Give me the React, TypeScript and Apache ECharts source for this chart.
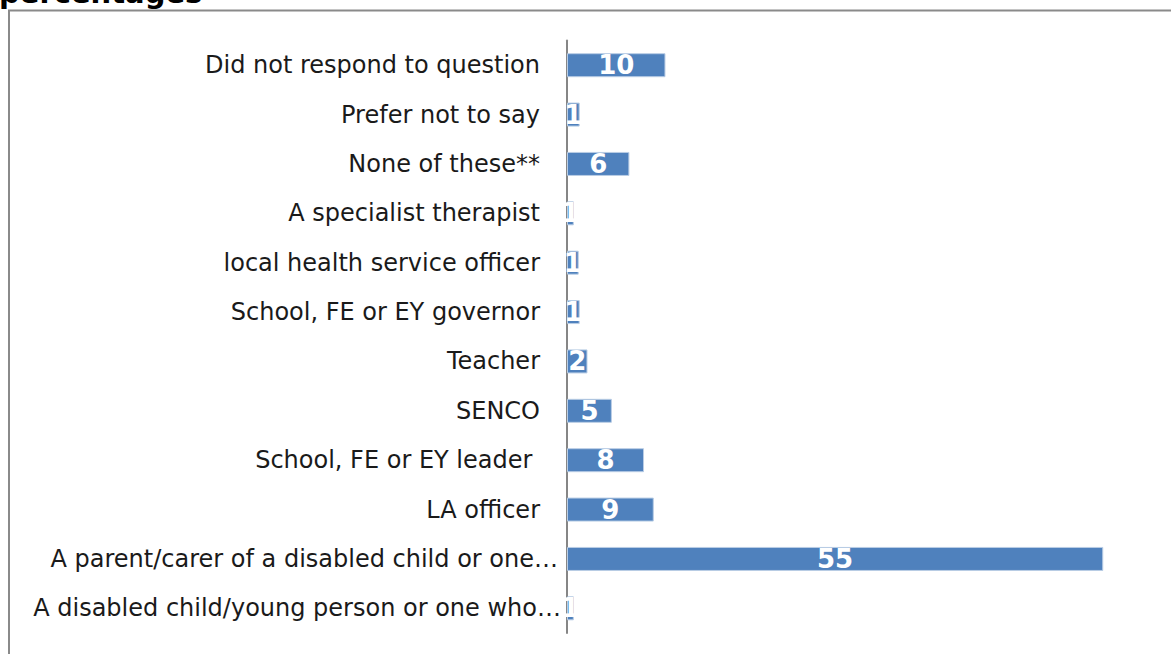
import React, { useEffect, useRef } from "react";
import * as echarts from "echarts";

const categories = [
  "A disabled child/young person or one who…",
  "A parent/carer of a disabled child or one…",
  "LA officer",
  "School, FE or EY leader ",
  "SENCO",
  "Teacher",
  "School, FE or EY governor",
  "local health service officer",
  "A specialist therapist",
  "None of these**",
  "Prefer not to say",
  "Did not respond to question",
];

const values = [0.7, 55.0, 8.9, 7.9, 4.6, 2.1, 1.3, 1.2, 0.7, 6.4, 1.3, 10.1];

const titleText = "percentages";

export default function App() {
  const ref = useRef<HTMLDivElement>(null);
  useEffect(() => {
    document.body.style.margin = "0";
    const chart = echarts.init(ref.current!, null, { renderer: "svg" });
    const catData = categories.map((c, i) =>
      i === 0
        ? { value: c, textStyle: { padding: [0, -21, 0, 0] } }
        : i === 1
        ? { value: c, textStyle: { padding: [0, -18, 0, 0] } }
        : c
    );
    chart.setOption({
      animation: false,
      backgroundColor: "#ffffff",
      grid: { left: 567, top: 40.5, width: 585, height: 592.5, containLabel: false },
      xAxis: {
        type: "value",
        min: 0,
        max: 60,
        show: false,
      },
      yAxis: {
        type: "category",
        data: catData,
        axisLine: { show: true, lineStyle: { color: "#868686", width: 2 } },
        axisTick: { show: false },
        axisLabel: {
          margin: 27,
          color: "#1a1a1a",
          fontSize: 24,
          fontFamily: "DejaVu Sans",
        },
      },
      series: [
        {
          type: "bar",
          data: values,
          barWidth: 24,
          itemStyle: { color: "#4f81bd", borderColor: "#b9cde5", borderWidth: 1 },
          label: {
            show: true,
            position: "inside",
            color: "#ffffff",
            fontFamily: "DejaVu Sans",
            fontWeight: "bold",
            fontSize: 26,
            formatter: (p: any) => String(Math.round(p.value)),
          },
        },
      ],
      graphic: [
        {
          type: "rect",
          shape: { x: 9, y: 10.5, width: 1300, height: 800 },
          style: { fill: "none", stroke: "#8a8a8a", lineWidth: 2 },
          z: 10,
        },
        {
          type: "text",
          x: -1,
          y: 7,
          style: {
            text: titleText,
            fontFamily: "DejaVu Sans",
            fontWeight: "bold",
            fontSize: 29,
            fill: "#000000",
            verticalAlign: "bottom",
          },
        },
      ],
    });
    return () => chart.dispose();
  }, []);
  return <div ref={ref} style={{ width: 1171, height: 654 }} />;
}
